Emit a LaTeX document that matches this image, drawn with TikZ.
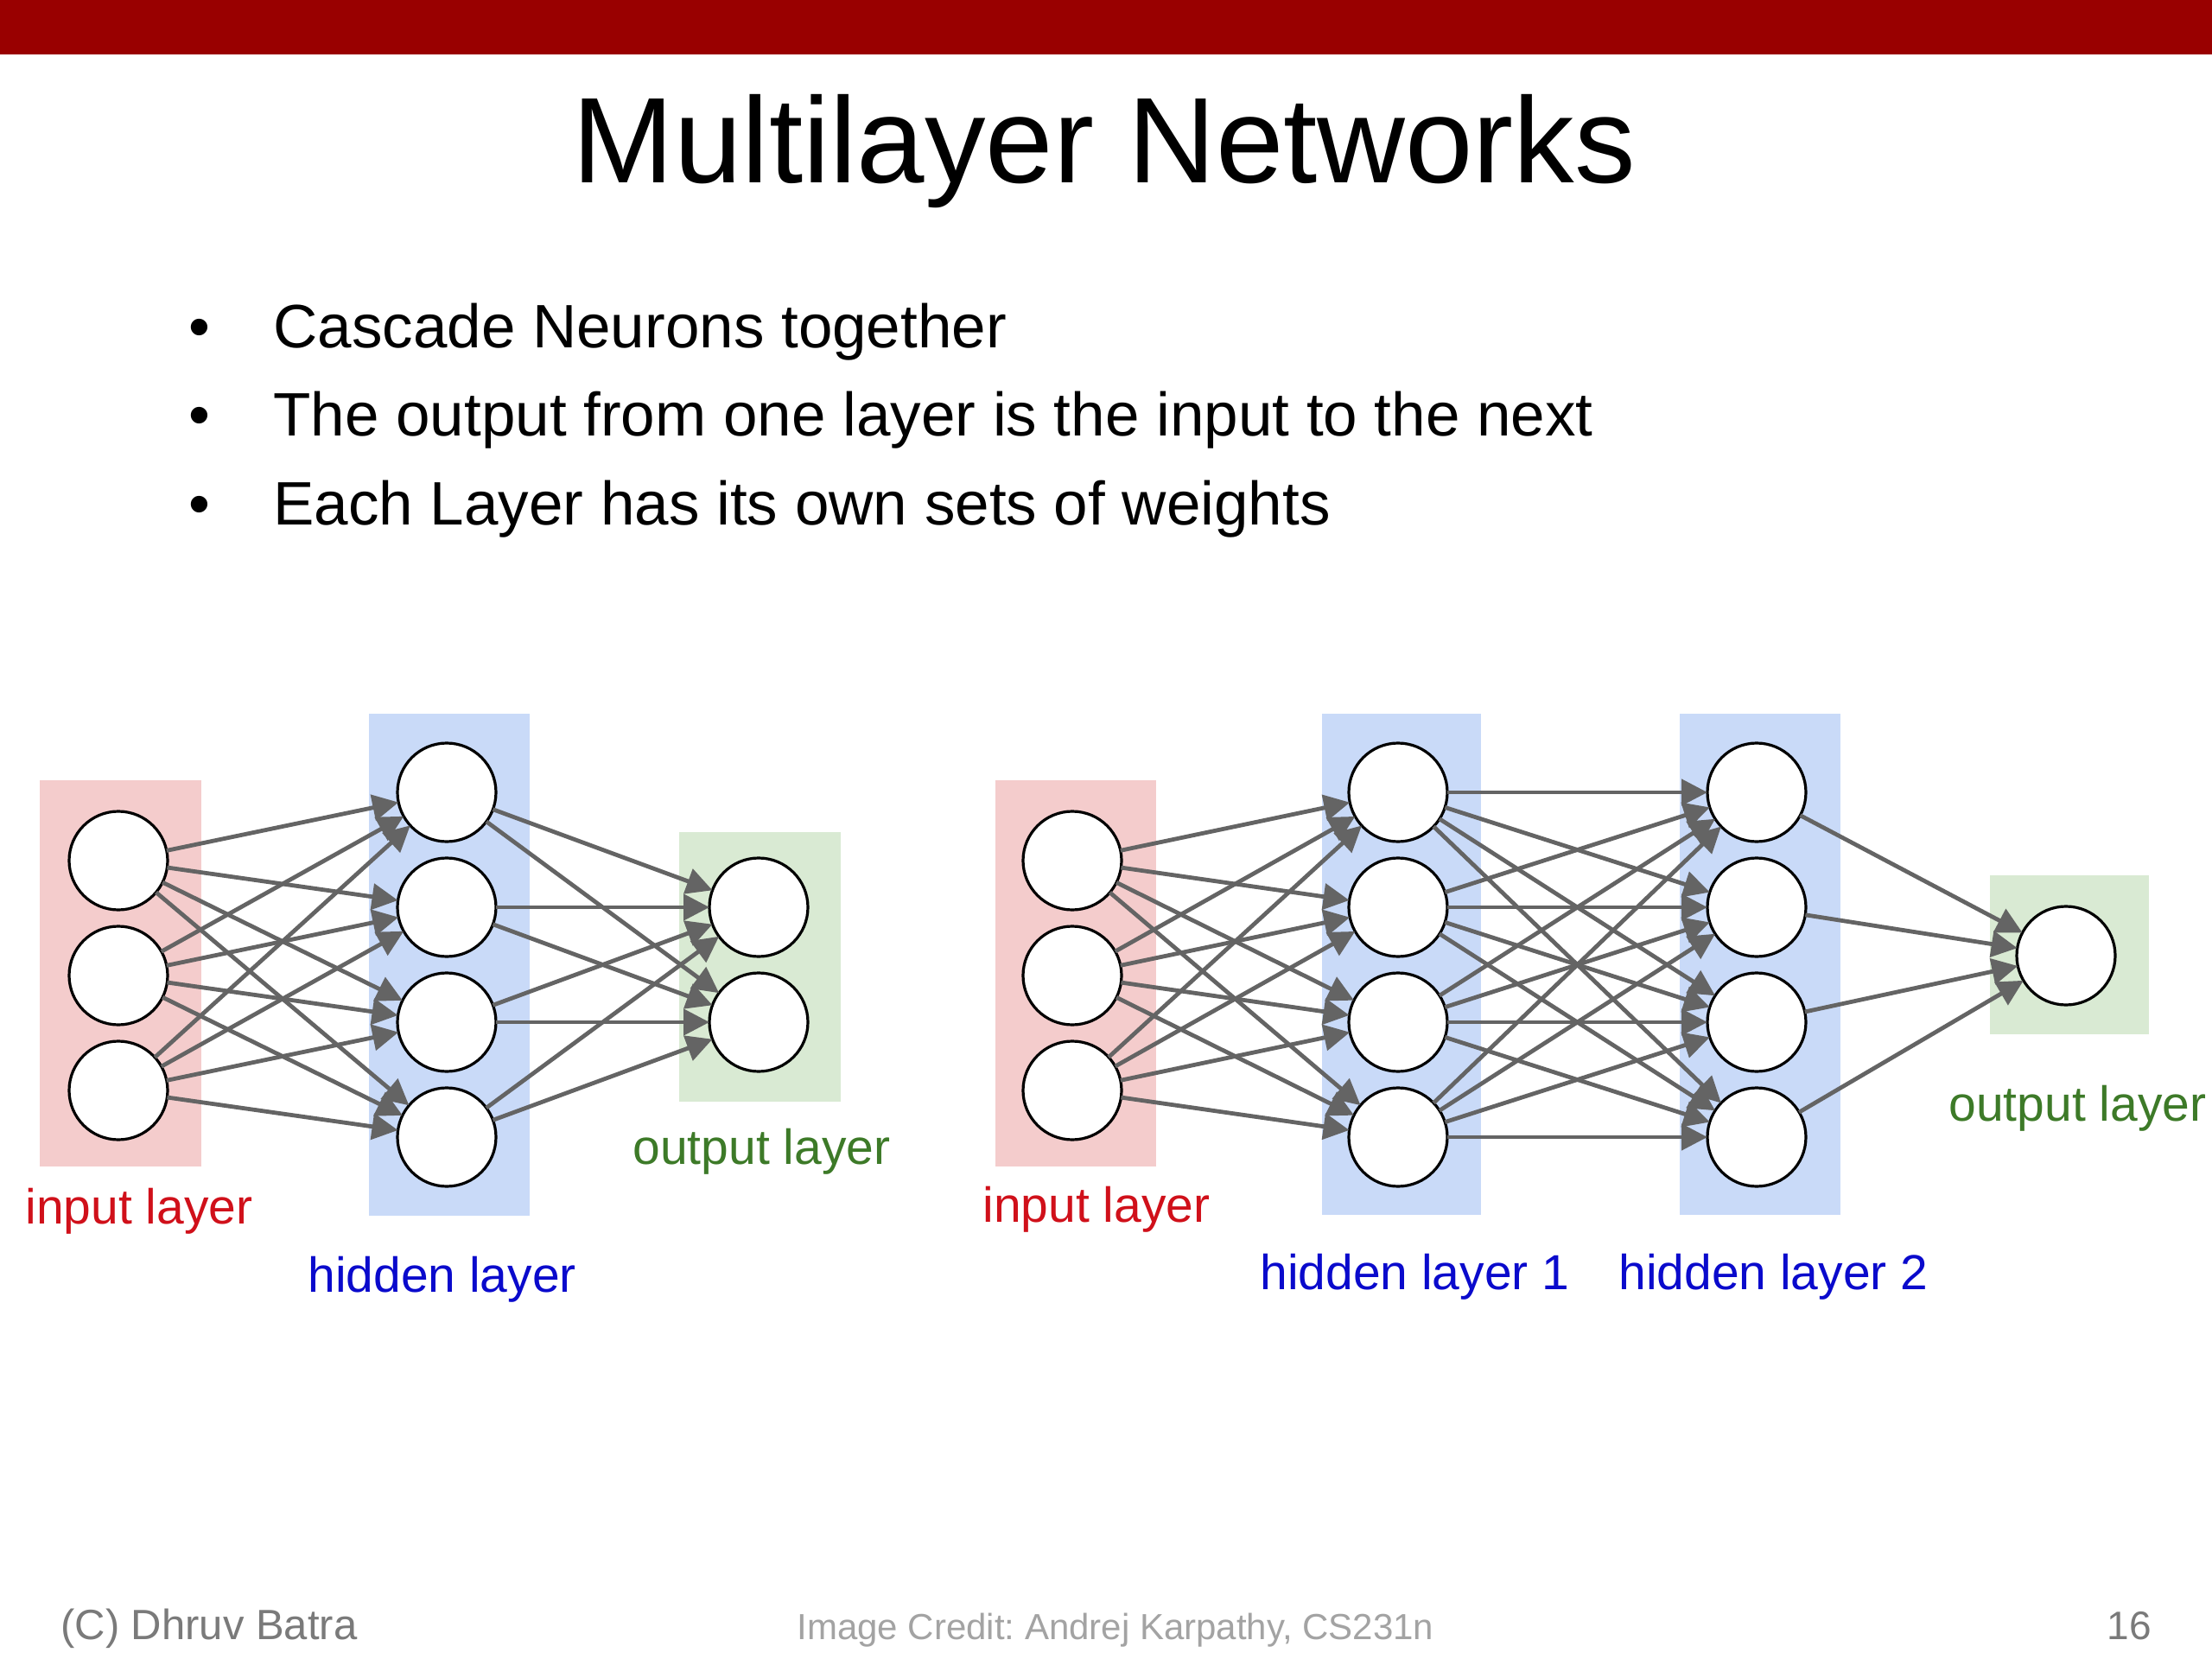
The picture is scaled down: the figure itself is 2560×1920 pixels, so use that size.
\documentclass[tikz,border=0pt]{standalone}
\usepackage{fontspec}
\setmainfont{Liberation Sans}
\usetikzlibrary{arrows.meta}
\frenchspacing
\definecolor{barred}{HTML}{990000}
\definecolor{inred}{HTML}{F4CCCC}
\definecolor{hidblue}{HTML}{C9DAF8}
\definecolor{outgreen}{HTML}{D9EAD3}
\definecolor{txtred}{HTML}{D0101A}
\definecolor{txtblue}{HTML}{0A0ACC}
\definecolor{txtgreen}{HTML}{3D7A28}
\definecolor{edgegray}{HTML}{646464}
\definecolor{footgray}{HTML}{7A7A7A}
\definecolor{creditgray}{HTML}{A3A3A3}
\tikzset{
  neuron/.style={circle, draw=black, fill=white, line width=1.6pt, minimum size=57pt, inner sep=0pt, outer sep=0pt},
  layerbox/.style={rectangle, draw=none, inner sep=0pt, outer sep=0pt},
  edge/.style={draw=edgegray, line width=2.4pt, -{Triangle[length=15pt,width=15pt]}},
  lbl/.style={anchor=base west, inner sep=0pt, font=\fontsize{28.5pt}{34pt}\selectfont},
  bul/.style={anchor=base west, inner sep=0pt, font=\fontsize{35.5pt}{43pt}\selectfont},
}
\begin{document}
\begin{tikzpicture}[x=0.5pt,y=-0.5pt]
\useasboundingbox (0,0) rectangle (2560,1920);
\fill[white] (0,0) rectangle (2560,1920);
\fill[barred] (0,0) rectangle (2560,63);

% title
\node[anchor=base, inner sep=0pt, font=\fontsize{70.5pt}{80pt}\selectfont] (title) at (1278,212) {Multilayer Networks};

% bullets
\node[anchor=base, inner sep=0pt, font=\fontsize{35.5pt}{43pt}\selectfont] (d1) at (231,403) {•};
\node[anchor=base, inner sep=0pt, font=\fontsize{35.5pt}{43pt}\selectfont] (d2) at (231,504) {•};
\node[anchor=base, inner sep=0pt, font=\fontsize{35.5pt}{43pt}\selectfont] (d3) at (231,607) {•};
\node[bul] (t1) at (316,403) {Cascade Neurons together};
\node[bul] (t2) at (316,504) {The output from one layer is the input to the next};
\node[bul] (t3) at (316,607) {Each Layer has its own sets of weights};

% ---------- left network ----------
\node[layerbox, fill=inred, minimum width=93.5pt, minimum height=223.5pt] (lin) at (139.5,1126.5) {};
\node[layerbox, fill=hidblue, minimum width=93pt, minimum height=290.5pt] (lhid) at (520,1116.5) {};
\node[layerbox, fill=outgreen, minimum width=93.5pt, minimum height=156pt] (lout) at (879.5,1119) {};

\node[neuron] (a1) at (137,996) {};
\node[neuron] (a2) at (137,1129) {};
\node[neuron] (a3) at (137,1262) {};
\node[neuron] (b1) at (517,917) {};
\node[neuron] (b2) at (517,1050) {};
\node[neuron] (b3) at (517,1183) {};
\node[neuron] (b4) at (517,1316) {};
\node[neuron] (c1) at (878,1050) {};
\node[neuron] (c2) at (878,1183) {};

\foreach \i in {1,2,3}{\foreach \j in {1,2,3,4}{\draw[edge] (a\i) -- (b\j);}}
\foreach \i in {1,2,3,4}{\foreach \j in {1,2}{\draw[edge] (b\i) -- (c\j);}}

\node[lbl, text=txtred] (lblin) at (29,1416) {input layer};
\node[lbl, text=txtblue] (lblhid) at (356,1495) {hidden layer};
\node[lbl, text=txtgreen] (lblout) at (732,1347) {output layer};

% ---------- right network ----------
\node[layerbox, fill=inred, minimum width=93pt, minimum height=223.5pt] (rin) at (1245,1126.5) {};
\node[layerbox, fill=hidblue, minimum width=92pt, minimum height=290pt] (rh1) at (1622,1116) {};
\node[layerbox, fill=hidblue, minimum width=93pt, minimum height=290pt] (rh2) at (2037,1116) {};
\node[layerbox, fill=outgreen, minimum width=92pt, minimum height=92pt] (rout) at (2395,1105) {};

\node[neuron] (p1) at (1241,996) {};
\node[neuron] (p2) at (1241,1129) {};
\node[neuron] (p3) at (1241,1262) {};
\node[neuron] (q1) at (1618,917) {};
\node[neuron] (q2) at (1618,1050) {};
\node[neuron] (q3) at (1618,1183) {};
\node[neuron] (q4) at (1618,1316) {};
\node[neuron] (s1) at (2033,917) {};
\node[neuron] (s2) at (2033,1050) {};
\node[neuron] (s3) at (2033,1183) {};
\node[neuron] (s4) at (2033,1316) {};
\node[neuron] (o1) at (2391,1106) {};

\foreach \i in {1,2,3}{\foreach \j in {1,2,3,4}{\draw[edge] (p\i) -- (q\j);}}
\foreach \i in {1,2,3,4}{\foreach \j in {1,2,3,4}{\draw[edge] (q\i) -- (s\j);}}
\foreach \i in {1,2,3,4}{\draw[edge] (s\i) -- (o1);}

\node[lbl, text=txtred] (rlblin) at (1137,1414) {input layer};
\node[lbl, text=txtblue] (rlblh1) at (1458,1492) {hidden layer 1};
\node[lbl, text=txtblue] (rlblh2) at (1873,1492) {hidden layer 2};
\node[lbl, text=txtgreen] (rlblout) at (2255,1297) {output layer};

% footer
\node[anchor=base west, inner sep=0pt, text=footgray, font=\fontsize{24.5pt}{29pt}\selectfont] (foot1) at (70,1897) {(C) Dhruv Batra};
\node[anchor=base west, inner sep=0pt, text=creditgray, font=\fontsize{21pt}{25pt}\selectfont] (foot2) at (922,1897) {Image Credit: Andrej Karpathy, CS231n};
\node[anchor=base east, inner sep=0pt, text=footgray, font=\fontsize{23pt}{28pt}\selectfont] (foot3) at (2490,1897) {16};
\end{tikzpicture}
\end{document}
